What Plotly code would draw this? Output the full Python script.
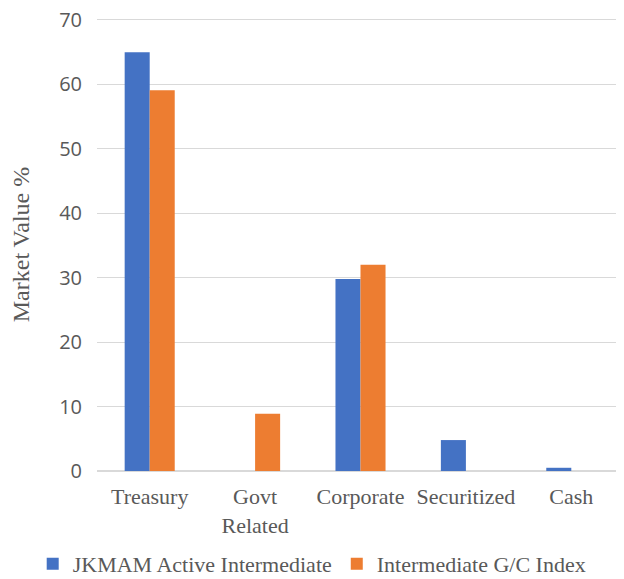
import plotly.graph_objects as go

categories = ["Treasury", "Govt<br>Related", "Corporate", "Securitized", "Cash"]
series_names = ["JKMAM Active Intermediate", "Intermediate G/C Index"]
jkmam = [65.0, None, 29.8, 4.8, 0.5]
index_vals = [59.1, 8.9, 32.0, None, None]
colors = ["#4472C4", "#ED7D31"]
y_ticks = [0, 10, 20, 30, 40, 50, 60, 70]

serif = "Liberation Serif, Times New Roman, serif"
sans = "Open Sans, Noto Sans, sans-serif"
grey = "#595959"

fig = go.Figure()
for name, vals, col in zip(series_names, [jkmam, index_vals], colors):
    fig.add_trace(go.Bar(x=categories, y=vals, name=name, marker_color=col,
                         marker_line_width=0))

fig.update_layout(
    width=616, height=579,
    margin=dict(l=89, r=0, t=10, b=116, autoexpand=False),
    plot_bgcolor="white", paper_bgcolor="white",
    barmode="group", bargap=0.525, bargroupgap=0,
    showlegend=True,
    legend=dict(orientation="h", x=-0.122, xanchor="left",
                y=-0.205, yanchor="middle", bgcolor="rgba(0,0,0,0)",
                font=dict(family=serif, size=22, color=grey),
                itemwidth=30, tracegroupgap=0),
    xaxis=dict(tickfont=dict(family=serif, size=22, color=grey),
               showline=False, ticks="", showgrid=False, automargin=False,
               ticklabelstandoff=10),
    yaxis=dict(range=[0, 70.3], tickvals=y_ticks, showgrid=True, gridcolor="#D9D9D9",
               gridwidth=1, zeroline=True, zerolinecolor="#D9D9D9", zerolinewidth=1.5,
               tickfont=dict(family=sans, size=20, color=grey), ticks="",
               ticklabelstandoff=14, automargin=False, ticklabeloverflow="allow",
               title=dict(text="Market Value %", font=dict(family=serif, size=24, color=grey),
                          standoff=22)),
)
fig.write_html("out.html")
